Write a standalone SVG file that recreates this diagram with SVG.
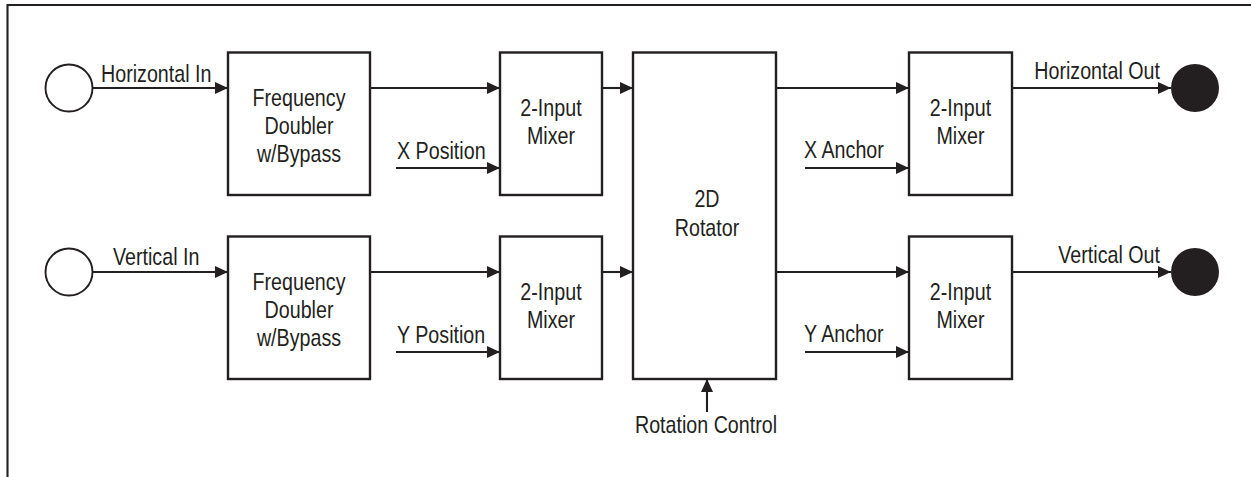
<svg xmlns="http://www.w3.org/2000/svg" width="1251" height="477" viewBox="0 0 1251 477">
<defs>
<style>
.box{fill:#fff;stroke:#231f20;stroke-width:2.4}
.ln{fill:none;stroke:#231f20;stroke-width:2.1}
.port{fill:#fff;stroke:#231f20;stroke-width:1.9}
.out{fill:#231f20;stroke:none}
text{font-family:"Liberation Sans",Arial,sans-serif;font-size:24px;fill:#231f20}
.c{text-anchor:middle}
.e{text-anchor:end}
</style>
<marker id="ah" markerUnits="userSpaceOnUse" markerWidth="13" markerHeight="12" refX="13" refY="6" orient="auto">
<path d="M0,0 L13,6 L0,12 z" fill="#231f20"/>
</marker>
</defs>
<rect width="1251" height="477" fill="#fff"/>
<g id="frame">
<path class="ln" d="M7.5,477 V5 H1251" stroke-width="2.3"/>
</g>
<g id="connectors">
<path class="ln" d="M93,88 H228" marker-end="url(#ah)"/>
<path class="ln" d="M93,272 H228" marker-end="url(#ah)"/>
<path class="ln" d="M370,88 H500" marker-end="url(#ah)"/>
<path class="ln" d="M370,272 H500" marker-end="url(#ah)"/>
<path class="ln" d="M396,168 H500" marker-end="url(#ah)"/>
<path class="ln" d="M396,352 H500" marker-end="url(#ah)"/>
<path class="ln" d="M602,88 H633" marker-end="url(#ah)"/>
<path class="ln" d="M602,272 H633" marker-end="url(#ah)"/>
<path class="ln" d="M776,88 H909" marker-end="url(#ah)"/>
<path class="ln" d="M776,272 H909" marker-end="url(#ah)"/>
<path class="ln" d="M805,168 H909" marker-end="url(#ah)"/>
<path class="ln" d="M805,352 H909" marker-end="url(#ah)"/>
<path class="ln" d="M1012,88 H1171" marker-end="url(#ah)"/>
<path class="ln" d="M1012,272 H1171" marker-end="url(#ah)"/>
<path class="ln" d="M707,412 V379" marker-end="url(#ah)"/>
<text transform="translate(101,82) scale(0.82,1)">Horizontal In</text>
<text transform="translate(113,265) scale(0.82,1)">Vertical In</text>
<text transform="translate(397,159) scale(0.82,1)">X Position</text>
<text transform="translate(397,343) scale(0.82,1)">Y Position</text>
<text transform="translate(804,158) scale(0.82,1)">X Anchor</text>
<text transform="translate(804,342) scale(0.82,1)">Y Anchor</text>
<text transform="translate(1160,79) scale(0.82,1)" class="e">Horizontal Out</text>
<text transform="translate(1160,263) scale(0.82,1)" class="e">Vertical Out</text>
<text transform="translate(706,433) scale(0.82,1)" class="c">Rotation Control</text>
</g>
<g id="h_in"><circle class="port" cx="69" cy="88" r="23.5"/></g>
<g id="v_in"><circle class="port" cx="69" cy="272" r="23.5"/></g>
<g id="h_out"><circle class="out" cx="1195" cy="88" r="24"/></g>
<g id="v_out"><circle class="out" cx="1195" cy="272" r="24"/></g>
<g id="fd1">
<rect class="box" x="228" y="52.5" width="142" height="142.5"/>
<text transform="translate(299,106) scale(0.82,1)" class="c">Frequency</text>
<text transform="translate(299,134) scale(0.82,1)" class="c">Doubler</text>
<text transform="translate(299,162) scale(0.82,1)" class="c">w/Bypass</text>
</g>
<g id="fd2">
<rect class="box" x="228" y="236.5" width="142" height="142.5"/>
<text transform="translate(299,290) scale(0.82,1)" class="c">Frequency</text>
<text transform="translate(299,318) scale(0.82,1)" class="c">Doubler</text>
<text transform="translate(299,346) scale(0.82,1)" class="c">w/Bypass</text>
</g>
<g id="mix1">
<rect class="box" x="500" y="52.5" width="102" height="142.5"/>
<text transform="translate(551,115.5) scale(0.82,1)" class="c">2-Input</text>
<text transform="translate(551,144) scale(0.82,1)" class="c">Mixer</text>
</g>
<g id="mix2">
<rect class="box" x="500" y="236.5" width="102" height="142.5"/>
<text transform="translate(551,299.5) scale(0.82,1)" class="c">2-Input</text>
<text transform="translate(551,328) scale(0.82,1)" class="c">Mixer</text>
</g>
<g id="rot">
<rect class="box" x="633" y="52.5" width="143" height="326.5"/>
<text transform="translate(707,207) scale(0.82,1)" class="c">2D</text>
<text transform="translate(707,236) scale(0.82,1)" class="c">Rotator</text>
</g>
<g id="mix3">
<rect class="box" x="909" y="52.5" width="103" height="142.5"/>
<text transform="translate(960.5,115.5) scale(0.82,1)" class="c">2-Input</text>
<text transform="translate(960.5,144) scale(0.82,1)" class="c">Mixer</text>
</g>
<g id="mix4">
<rect class="box" x="909" y="236.5" width="103" height="142.5"/>
<text transform="translate(960.5,299.5) scale(0.82,1)" class="c">2-Input</text>
<text transform="translate(960.5,328) scale(0.82,1)" class="c">Mixer</text>
</g>
</svg>
